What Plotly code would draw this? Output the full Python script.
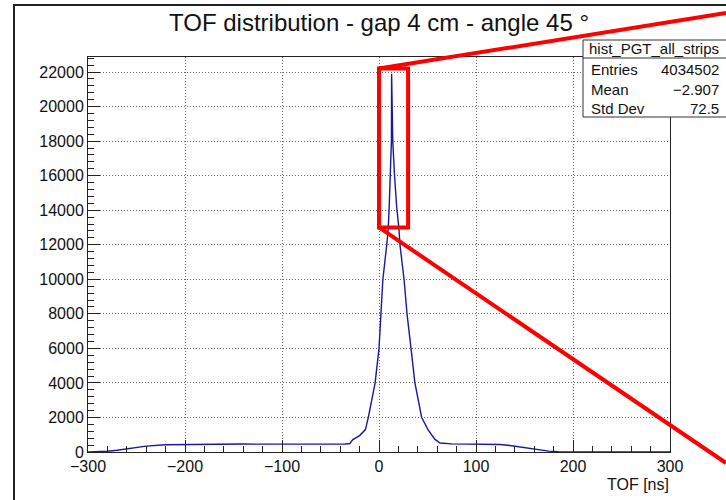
import plotly.graph_objects as go

# ---- data ----
tof_ns = [-300, -290, -280, -270, -260, -250, -240, -220, -200, -180, -160, -140,
          -120, -100, -80, -60, -45, -35, -30, -27, -20, -14, -11, -4, 0, 2, 4, 8,
          9.5, 10.5, 12, 12.8, 13, 14.2, 15.8, 18.2, 20.6, 21.6, 25.8, 28.9, 33, 37,
          44, 50.5, 57.7, 63, 75, 90, 110, 125, 135, 145, 155, 165, 175, 185, 200,
          220, 250, 300]
counts = [0, 10, 40, 100, 190, 270, 340, 420, 440, 450, 455, 460,
          455, 450, 445, 440, 445, 460, 490, 720, 950, 1300, 2000, 4000, 6000, 8000, 10000, 12000,
          12900, 14200, 16200, 18000, 21900, 18000, 16200, 14200, 12900, 12000, 10000, 8000, 6000, 4000,
          2000, 1300, 730, 520, 470, 455, 450, 430, 380, 300, 200, 110, 50, 20, 8,
          4, 2, 1]

title_text = "TOF distribution - gap 4 cm - angle 45 °"
x_title = "TOF [ns]"
stats_name = "hist_PGT_all_strips"
stats_labels = ["Entries", "Mean", "Std Dev"]
stats_values = ["4034502", "\u22122.907", "72.5"]
zoom_box_x = [0, 30]
zoom_box_y = [13000, 22200]

# ---- geometry (pixels) ----
W, H = 726, 500
L, R, T, B = 88, 670, 57, 452
YMAX = 22870


def px(x):
    return (x - L) / (R - L)


def py(y):
    return (B - y) / (B - T)


FONT = "Liberation Sans, Arial, Helvetica, sans-serif"

fig = go.Figure()
fig.add_trace(go.Scatter(x=tof_ns, y=counts, mode="lines",
                         line=dict(color="#1818a0", width=1.4), hoverinfo="skip",
                         showlegend=False))

axis_common = dict(
    showline=True, linecolor="#222", linewidth=1, mirror=True,
    ticks="inside", ticklen=12, tickcolor="#222", tickwidth=1,
    showgrid=True, gridcolor="#666", griddash="1px,2px", gridwidth=1,
    zeroline=False, tickfont=dict(family=FONT, size=16, color="#111"),
)

fig.update_layout(
    width=W, height=H,
    margin=dict(l=L, r=W - R, t=T, b=H - B),
    paper_bgcolor="white", plot_bgcolor="white",
    xaxis=dict(range=[-300, 300], dtick=100, tick0=0,
               minor=dict(dtick=20, ticks="inside", ticklen=6, tickcolor="#222", showgrid=False),
               ticklabelstandoff=0, **axis_common),
    yaxis=dict(range=[0, YMAX], dtick=2000, tick0=0, tickformat="d",
               minor=dict(dtick=400, ticks="inside", ticklen=6, tickcolor="#222", showgrid=False),
               ticklabelstandoff=0, **axis_common),
    showlegend=False,
)

shapes = []
# canvas border
shapes.append(dict(type="rect", xref="paper", yref="paper",
                   x0=px(14), x1=px(760), y0=py(5), y1=py(540),
                   line=dict(color="#222", width=2), fillcolor="rgba(0,0,0,0)", layer="below"))
# stats box
shapes.append(dict(type="rect", xref="paper", yref="paper",
                   x0=px(583), x1=px(760), y0=py(40), y1=py(117),
                   line=dict(color="#333", width=1), fillcolor="white", layer="above"))
shapes.append(dict(type="line", xref="paper", yref="paper",
                   x0=px(583), x1=px(760), y0=py(58), y1=py(58),
                   line=dict(color="#333", width=1)))
# zoom box (data coords)
shapes.append(dict(type="rect", xref="x", yref="y",
                   x0=zoom_box_x[0], x1=zoom_box_x[1], y0=zoom_box_y[0], y1=zoom_box_y[1],
                   line=dict(color="#ff0000", width=4), fillcolor="rgba(0,0,0,0)"))
# connector lines
x0p = L + (zoom_box_x[0] + 300) / 600 * (R - L)
y_top = B - zoom_box_y[1] / YMAX * (B - T)
y_bot = B - zoom_box_y[0] / YMAX * (B - T)
shapes.append(dict(type="line", xref="paper", yref="paper",
                   x0=px(x0p), y0=py(y_top), x1=px(726), y1=py(13),
                   line=dict(color="#ff0000", width=4)))
shapes.append(dict(type="line", xref="paper", yref="paper",
                   x0=px(x0p), y0=py(y_bot), x1=px(726), y1=py(463),
                   line=dict(color="#ff0000", width=4)))
fig.update_layout(shapes=shapes)

ann = []
ann.append(dict(text=title_text, xref="paper", yref="paper", x=px(379), y=py(23),
                xanchor="center", yanchor="middle", showarrow=False,
                font=dict(family=FONT, size=24, color="#111")))
ann.append(dict(text=x_title, xref="paper", yref="paper", x=px(671), y=py(484),
                xanchor="right", yanchor="middle", showarrow=False,
                font=dict(family=FONT, size=16, color="#111")))
ann.append(dict(text=stats_name, xref="paper", yref="paper", x=px(587), y=py(49),
                xanchor="left", yanchor="middle", showarrow=False,
                font=dict(family=FONT, size=15, color="#111")))
for i, (lab, val) in enumerate(zip(stats_labels, stats_values)):
    yy = [69, 89, 108][i]
    ann.append(dict(text=lab, xref="paper", yref="paper", x=px(589), y=py(yy),
                    xanchor="left", yanchor="middle", showarrow=False,
                    font=dict(family=FONT, size=15, color="#111")))
    ann.append(dict(text=val, xref="paper", yref="paper", x=px(721), y=py(yy),
                    xanchor="right", yanchor="middle", showarrow=False,
                    font=dict(family=FONT, size=15, color="#111")))
fig.update_layout(annotations=ann)

fig.write_html("out.html", config={"displayModeBar": False},
               post_script="document.body.style.margin='0';document.body.style.overflow='hidden';")
